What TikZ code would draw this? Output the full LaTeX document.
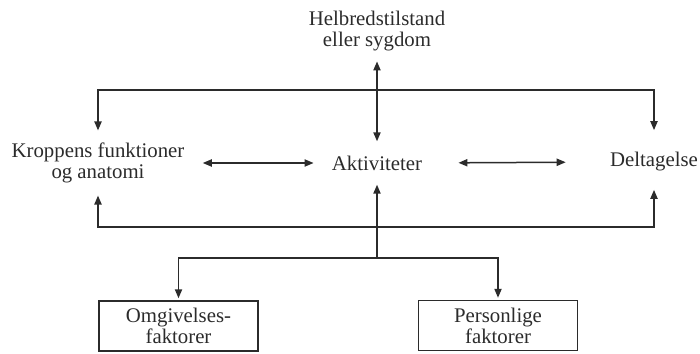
\documentclass[tikz,border=0pt]{standalone}
\usepackage{fontspec}
\setmainfont{Liberation Serif}
\usetikzlibrary{arrows.meta}
\definecolor{ink}{HTML}{2B2B2B}
\tikzset{
  lbl/.style={font=\fontsize{10.4}{10.6}\selectfont, text=ink, align=center, inner sep=0pt},
  box/.style={lbl, draw=ink, line width=0.75pt, minimum width=79.5pt, minimum height=25pt},
  conn/.style={draw=ink, line width=0.75pt, arrows={-}, >={Triangle[length=4.5pt,width=3.6pt]}}
}
\begin{document}
\begin{tikzpicture}[x=0.5pt,y=-0.5pt]
\useasboundingbox (0,0) rectangle (700,353);
\node[lbl] (h) at (377,31) {Helbredstilstand\\eller sygdom};
\node[lbl] (k) at (98,163) {Kroppens funktioner\\og anatomi};
\node[lbl] (a) at (377,163) {Aktiviteter};
\node[lbl] (d) at (654,162) {Deltagelse};
\node[box] (o) at (178.5,326) {Omgivelses-\\faktorer};
\node[box] (p) at (498,325.5) {Personlige\\faktorer};
\coordinate (top) at (377,90);
\coordinate (bot) at (377,227);
\coordinate (br) at (377,258);
% vertical health arrow
\draw[conn,<->,shorten <=5pt,shorten >=7pt] (h.south) -- (a.north);
% top loop
\draw[conn,<->,shorten <=6pt,shorten >=11pt] (k.north) |- (top) -| (d.north);
% bottom loop
\draw[conn,<->,shorten <=6pt,shorten >=9pt] (k.south) |- (bot) -| (d.south);
% horizontal double arrows
\draw[conn,<->,shorten <=9pt,shorten >=9pt] (k.east) -- (a.west);
\draw[conn,<->,shorten <=18pt,shorten >=22pt] (a.east) -- (d.west);
% branch to factors
\draw[conn,->,shorten >=7pt] (br) -- (a.south);
\draw[conn,->,shorten >=1pt] (br) -| (o.north);
\draw[conn,->,shorten >=1pt] (br) -| (p.north);
\end{tikzpicture}
\end{document}
